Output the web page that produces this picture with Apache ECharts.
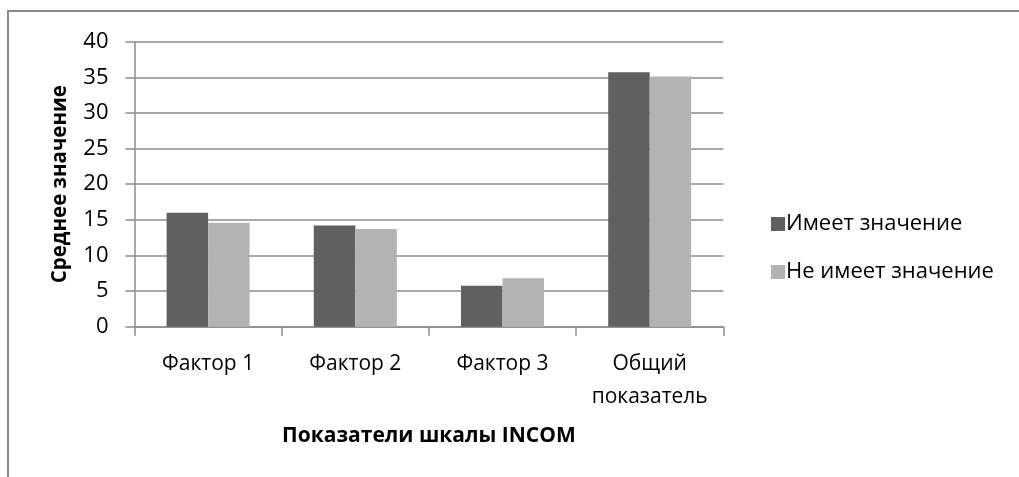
<!DOCTYPE html>
<html>
<head>
<meta charset="utf-8">
<script src="https://cdn.jsdelivr.net/npm/echarts@6/dist/echarts.min.js"></script>
<style>
html,body{margin:0;padding:0;background:#fff;}
#frame{position:absolute;left:7px;top:10px;width:1100px;height:600px;border:2px solid #8a8a8a;box-sizing:border-box;}
#c{position:absolute;left:0;top:0;width:1019px;height:477px;}
</style>
</head>
<body>
<div id="frame"></div>
<div id="c"></div>
<script>
const categories = ['Фактор 1', 'Фактор 2', 'Фактор 3', 'Общий\nпоказатель'];
const seriesNames = ['Имеет значение', 'Не имеет значение'];
const valuesImportant = [16.0, 14.2, 5.75, 35.7];
const valuesNotImportant = [14.6, 13.7, 6.8, 35.1];
const yTicks = [0, 5, 10, 15, 20, 25, 30, 35, 40];

const FONT = '"Open Sans", "Noto Sans", sans-serif';
const chart = echarts.init(document.getElementById('c'), null, {renderer: 'canvas'});
chart.setOption({
  animation: false,
  backgroundColor: 'transparent',
  grid: {left: 134.5, right: 295.7, top: 41.7, bottom: 150.3, containLabel: false},
  legend: {
    orient: 'vertical',
    left: 766,
    top: 208,
    itemWidth: 14,
    itemHeight: 14,
    itemGap: 26,
    icon: 'rect',
    textStyle: {fontFamily: FONT, fontSize: 22, color: '#000', padding: [0, 0, 0, -4]},
    data: seriesNames
  },
  xAxis: {
    type: 'category',
    data: categories,
    name: 'Показатели шкалы INCOM',
    nameLocation: 'middle',
    nameGap: 99,
    nameTextStyle: {fontFamily: FONT, fontSize: 21, fontWeight: 'bold', color: '#000'},
    axisLine: {lineStyle: {color: '#8c8c8c', width: 1.5}},
    axisTick: {show: true, length: 9, lineStyle: {color: '#8c8c8c', width: 1.5}},
    axisLabel: {fontFamily: FONT, fontSize: 21, color: '#000', margin: 21, lineHeight: 33, interval: 0}
  },
  yAxis: {
    type: 'value',
    min: 0,
    max: 40,
    interval: 5,
    name: 'Среднее значение',
    nameLocation: 'middle',
    nameGap: 64,
    nameTextStyle: {fontFamily: FONT, fontSize: 20.5, fontWeight: 'bold', color: '#000'},
    axisLine: {show: true, lineStyle: {color: '#8c8c8c', width: 1.5}},
    axisTick: {show: true, length: 9, inside: false, lineStyle: {color: '#8c8c8c', width: 1.5}},
    splitLine: {lineStyle: {color: '#8c8c8c', width: 1.5}},
    axisLabel: {
      fontFamily: FONT, fontSize: 22, color: '#000', margin: 26,
      formatter: v => (yTicks.indexOf(v) >= 0 ? String(v) : '')
    }
  },
  series: [
    {
      name: seriesNames[0], type: 'bar', data: valuesImportant,
      barWidth: 41.5, barGap: '0%',
      itemStyle: {color: '#606060'}
    },
    {
      name: seriesNames[1], type: 'bar', data: valuesNotImportant,
      barWidth: 41.5, barGap: '0%',
      itemStyle: {color: '#b3b3b3'}
    }
  ]
});
</script>
</body>
</html>
